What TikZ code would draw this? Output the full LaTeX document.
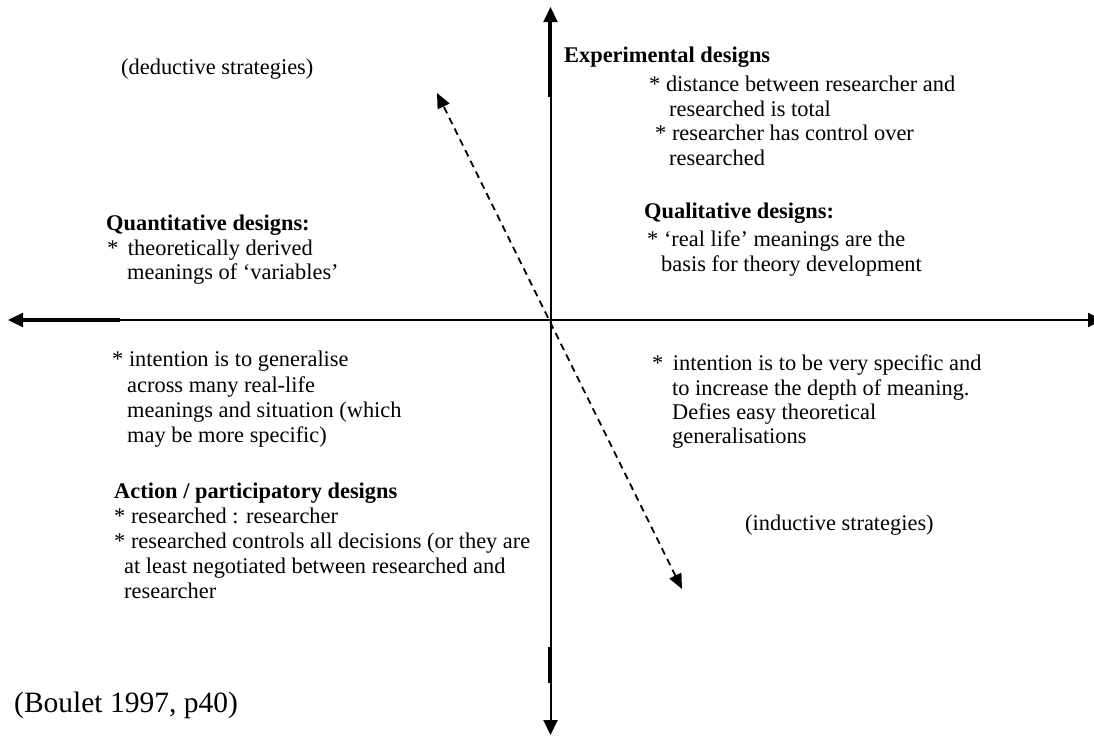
\documentclass[tikz,border=0pt]{standalone}
\usepackage{fontspec}
\setmainfont{Liberation Serif}
\usetikzlibrary{arrows.meta}
\begin{document}
\begin{tikzpicture}[x=1pt,y=-1pt,
  txt/.style={anchor=base west,inner sep=0pt,font=\fontsize{22.4}{25}\selectfont},
  hd/.style={anchor=base west,inner sep=0pt,font=\fontsize{22.4}{25}\selectfont\bfseries},
  big/.style={anchor=base west,inner sep=0pt,font=\fontsize{29.5}{34}\selectfont},
  axisline/.style={line width=2pt,{Triangle[length=15pt,width=14pt]}-{Triangle[length=15pt,width=14pt]}},
  thickseg/.style={line width=3.2pt},
  dsh/.style={line width=1.8pt,dash pattern=on 7pt off 5pt,{Triangle[length=15pt,width=13pt]}-{Triangle[length=15pt,width=13pt]}}]
\useasboundingbox (0,0) rectangle (1094,736);
\clip (0,0) rectangle (1094,736);
% axes
\coordinate (top) at (550.5,7);
\coordinate (bot) at (550.5,735);
\coordinate (lft) at (8,320);
\coordinate (rgt) at (1103,320);
\coordinate (t1) at (550,20);
\coordinate (t2) at (550,97);
\coordinate (b1) at (550,647);
\coordinate (b2) at (550,683);
\coordinate (l1) at (22,320);
\coordinate (l2) at (120,320);
\draw[axisline] (bot) -- (top);
\draw[axisline] (lft) -- (rgt);
\draw[thickseg] (t1) -- (t2);
\draw[thickseg] (b1) -- (b2);
\draw[thickseg] (l1) -- (l2);
% dashed diagonal
\coordinate (dU) at (437,93);
\coordinate (dL) at (682,589);
\draw[dsh] (dL) -- (dU);
% texts
\node[txt] (ded) at (121,74) {(deductive strategies)};
\node[hd] (exp) at (564,62) {Experimental designs};
\node[txt] (exp1) at (649,91) {* distance between researcher and};
\node[txt] (exp2) at (669,116) {researched is total};
\node[txt] (exp3) at (655,140) {* researcher has control over};
\node[txt] (exp4) at (669,165) {researched};
\node[hd] (qual) at (644,218) {Qualitative designs:};
\node[txt] (qual1) at (647,246) {* ‘real life’ meanings are the};
\node[txt] (qual2) at (661,271) {basis for theory development};
\node[hd] (quan) at (106,230) {Quantitative designs:};
\node[txt] (quan1) at (107,255) {*\hspace*{4pt} theoretically derived};
\node[txt] (quan2) at (127,279) {meanings of ‘variables’};
\node[txt] (gen1) at (112,366) {* intention is to generalise};
\node[txt] (gen2) at (127,392) {across many real-life};
\node[txt] (gen3) at (127,417) {meanings and situation (which};
\node[txt] (gen4) at (127,442) {may be more specific)};
\node[txt] (spe1) at (652,370) {*\hspace*{4pt} intention is to be very specific and};
\node[txt] (spe2) at (672,395) {to increase the depth of meaning.};
\node[txt] (spe3) at (672,419) {Defies easy theoretical};
\node[txt] (spe4) at (672,443) {generalisations};
\node[hd] (act) at (114,498) {Action / participatory designs};
\node[txt] (act1) at (114,523) {* researched : researcher};
\node[txt] (act2) at (114,548) {* researched controls all decisions (or they are};
\node[txt] (act3) at (124,573) {at least negotiated between researched and};
\node[txt] (act4) at (124,598) {researcher};
\node[txt] (ind) at (745,530) {(inductive strategies)};
\node[big] (src) at (14,712) {(Boulet 1997, p40)};
\end{tikzpicture}
\end{document}
